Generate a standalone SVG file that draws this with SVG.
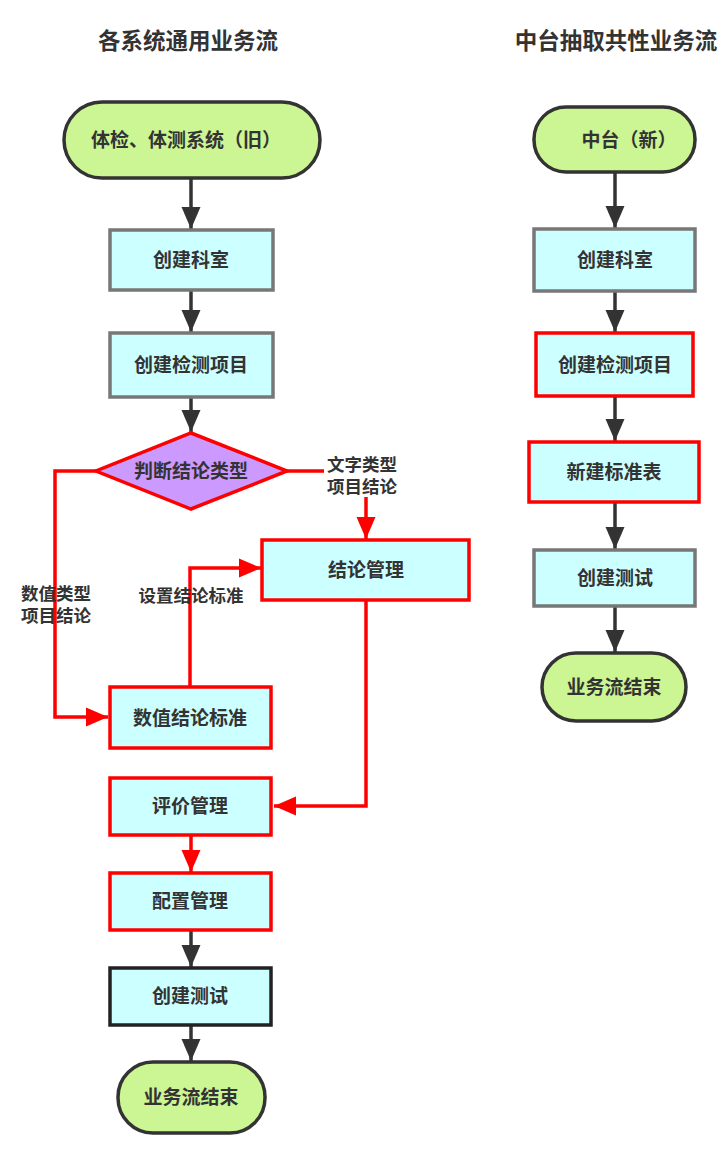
<svg xmlns="http://www.w3.org/2000/svg" width="724" height="1152" viewBox="0 0 724 1152">
<style>
.t{font-family:"Liberation Sans","Noto Sans CJK SC",sans-serif;font-weight:bold;fill:#333;text-anchor:middle;dominant-baseline:central}
.title{font-size:22.5px}
.n{font-size:19px}
.lb{font-size:17.5px}
.term{fill:#ccf593;stroke:#333;stroke-width:3.5}
.box{fill:#ccffff;stroke-width:3.5}
.gray{stroke:#777}
.red{stroke:#ff0000}
.blk{stroke:#222}
.ck{fill:none;stroke:#333;stroke-width:3.5}
.cr{fill:none;stroke:#ff0000;stroke-width:3.5}
</style>
<defs>
<marker id="ak" markerUnits="userSpaceOnUse" markerWidth="22" markerHeight="24" viewBox="0 0 22 24" refX="22" refY="10" orient="auto"><polygon points="0,0.5 22,10 0,19.5" fill="#333"/></marker>
<marker id="ar" markerUnits="userSpaceOnUse" markerWidth="22" markerHeight="24" viewBox="0 0 22 24" refX="22" refY="10" orient="auto"><polygon points="0,0.5 22,10 0,19.5" fill="#ff0000"/></marker>
</defs>
<text class="t title" x="188" y="41">各系统通用业务流</text>
<text class="t title" x="616" y="41">中台抽取共性业务流</text>
<g id="connectors">
<line class="ck" x1="191" y1="178" x2="191" y2="229" marker-end="url(#ak)"/>
<line class="ck" x1="191" y1="290" x2="191" y2="332" marker-end="url(#ak)"/>
<line class="ck" x1="191" y1="397" x2="191" y2="432" marker-end="url(#ak)"/>
<polyline class="cr" points="96,471 55,471 55,717 108,717" marker-end="url(#ar)"/>
<line class="cr" x1="287" y1="471" x2="324" y2="471"/>
<line class="cr" x1="366" y1="497" x2="366" y2="539" marker-end="url(#ar)"/>
<polyline class="cr" points="190,687 190,568 261,568" marker-end="url(#ar)"/>
<polyline class="cr" points="366,600 366,806 274,806" marker-end="url(#ar)"/>
<line class="cr" x1="191" y1="835" x2="191" y2="872" marker-end="url(#ar)"/>
<line class="ck" x1="191" y1="930" x2="191" y2="967" marker-end="url(#ak)"/>
<line class="ck" x1="191" y1="1025" x2="191" y2="1061" marker-end="url(#ak)"/>
<line class="ck" x1="615" y1="172" x2="615" y2="228" marker-end="url(#ak)"/>
<line class="ck" x1="615" y1="291" x2="615" y2="332" marker-end="url(#ak)"/>
<line class="ck" x1="615" y1="396" x2="615" y2="441" marker-end="url(#ak)"/>
<line class="ck" x1="615" y1="502" x2="615" y2="549" marker-end="url(#ak)"/>
<line class="ck" x1="615" y1="606" x2="615" y2="652" marker-end="url(#ak)"/>
<text class="t lb" x="56" y="594">数值类型</text>
<text class="t lb" x="56" y="616">项目结论</text>
<text class="t lb" x="362" y="465">文字类型</text>
<text class="t lb" x="362" y="487">项目结论</text>
<text class="t lb" x="191" y="596">设置结论标准</text>
</g>
<g id="n_start_l"><rect class="term" x="64" y="102" width="256" height="76" rx="38"/><text class="t n" x="186" y="140">体检、体测系统（旧）</text></g>
<g id="n_dept_l"><rect class="box gray" x="110" y="230" width="163" height="60"/><text class="t n" x="191" y="260">创建科室</text></g>
<g id="n_item_l"><rect class="box gray" x="110" y="333" width="163" height="64"/><text class="t n" x="191" y="365">创建检测项目</text></g>
<g id="n_judge"><polygon points="191,433 287,471 191,509 96,471" fill="#cc99ff" stroke="#ff0000" stroke-width="3.5"/><text class="t n" x="191" y="471">判断结论类型</text></g>
<g id="n_concl"><rect class="box red" x="262" y="540" width="207" height="60"/><text class="t n" x="366" y="570">结论管理</text></g>
<g id="n_numstd"><rect class="box red" x="110" y="687" width="161" height="61"/><text class="t n" x="190" y="718">数值结论标准</text></g>
<g id="n_eval"><rect class="box red" x="110" y="778" width="161" height="57"/><text class="t n" x="190" y="806">评价管理</text></g>
<g id="n_conf"><rect class="box red" x="110" y="873" width="161" height="57"/><text class="t n" x="190" y="901">配置管理</text></g>
<g id="n_test_l"><rect class="box blk" x="110" y="968" width="161" height="57"/><text class="t n" x="190" y="996">创建测试</text></g>
<g id="n_end_l"><rect class="term" x="118" y="1062" width="147" height="71" rx="35"/><text class="t n" x="191" y="1097">业务流结束</text></g>
<g id="n_start_r"><rect class="term" x="534" y="107" width="161" height="65" rx="32"/><text class="t n" x="629" y="140">中台（新）</text></g>
<g id="n_dept_r"><rect class="box gray" x="534" y="229" width="161" height="62"/><text class="t n" x="615" y="260">创建科室</text></g>
<g id="n_item_r"><rect class="box red" x="536" y="333" width="157" height="63"/><text class="t n" x="615" y="365">创建检测项目</text></g>
<g id="n_std_r"><rect class="box red" x="529" y="442" width="170" height="60"/><text class="t n" x="614" y="472">新建标准表</text></g>
<g id="n_test_r"><rect class="box gray" x="534" y="550" width="161" height="56"/><text class="t n" x="615" y="578">创建测试</text></g>
<g id="n_end_r"><rect class="term" x="542" y="653" width="144" height="68" rx="34"/><text class="t n" x="614" y="687">业务流结束</text></g>
</svg>
